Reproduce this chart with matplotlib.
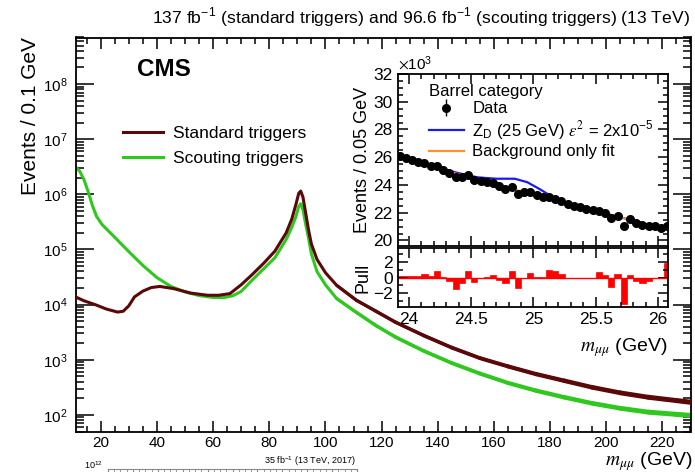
import numpy as np
import matplotlib.pyplot as plt
from matplotlib.collections import LineCollection
from matplotlib.ticker import MultipleLocator, LogLocator, NullFormatter, FormatStrFormatter

plt.rcParams['font.family'] = ['Liberation Sans', 'DejaVu Sans']
plt.rcParams['mathtext.fontset'] = 'stix'

# main spectrum (mass in GeV, log10 of events / 0.1 GeV)
std_mass = [11, 14, 18, 22, 26, 28, 30, 32, 35, 38, 41, 46, 52, 58, 62, 66, 70, 74, 78, 82,
            86, 88, 89.5, 90.5, 91.2, 92, 93, 94, 95, 97, 100, 104, 111, 118, 125, 135, 145,
            155, 165, 175, 185, 195, 205, 215, 225, 230]
std_log = [4.14, 4.07, 4.0, 3.92, 3.865, 3.88, 3.98, 4.14, 4.245, 4.31, 4.33, 4.29, 4.21, 4.17,
           4.17, 4.2, 4.36, 4.55, 4.75, 4.97, 5.3, 5.55, 5.82, 6.02, 6.06, 5.95, 5.65, 5.35,
           5.1, 4.82, 4.58, 4.35, 4.08, 3.88, 3.68, 3.44, 3.22, 3.03, 2.88, 2.74, 2.62, 2.5,
           2.4, 2.32, 2.26, 2.23]
sct_mass = [11, 12.5, 14, 15.5, 17, 18.5, 20.5, 25, 30, 35, 40, 45, 50, 55, 60, 64, 67, 70, 74,
            78, 82, 86, 88, 89.5, 90.5, 91.2, 92, 93, 94, 95, 97, 100, 104, 111, 118, 125,
            135, 145, 155, 165, 175, 185, 195, 205, 215, 225, 230]
sct_log = [6.5, 6.42, 6.27, 6.05, 5.8, 5.6, 5.45, 5.22, 4.96, 4.71, 4.49, 4.33, 4.23, 4.165,
           4.13, 4.13, 4.16, 4.24, 4.45, 4.65, 4.85, 5.18, 5.4, 5.6, 5.78, 5.83, 5.72, 5.45,
           5.2, 4.92, 4.6, 4.36, 4.11, 3.86, 3.62, 3.41, 3.16, 2.94, 2.75, 2.58, 2.44, 2.32,
           2.21, 2.12, 2.05, 2.01, 1.99]
y_decades = [1e2, 1e3, 1e4, 1e5, 1e6, 1e7, 1e8]

# inset: barrel category around 25 GeV (events in units of 10^3)
bin_centers = [23.925 + 0.05 * i for i in range(44)]
data_k = [26.08, 25.95, 25.81, 25.67, 25.58, 25.39, 25.35, 25.11, 24.88, 24.59, 24.59, 24.69,
          24.34, 24.32, 24.22, 24.13, 23.91, 23.73, 23.85, 23.38, 23.48, 23.46, 23.26, 23.14,
          23.16, 23.01, 22.82, 22.64, 22.50, 22.38, 22.26, 22.16, 22.15, 21.98, 21.62, 21.77,
          21.04, 21.52, 21.29, 21.12, 21.04, 21.01, 20.91, 21.05]
data_err = [0.16] * 44
pulls = [0.2, 0.2, 0.2, 0.2, 0.5, 0.2, 0.8, 0.1, -0.5, -1.5, -0.7, 0.8, -0.6, 0.0, 0.1, 0.3,
         -0.3, -0.7, 0.8, -1.4, 0.0, 0.6, 0.1, 0.1, 1.0, 0.8, 0.4, 0.0, -0.1, -0.1, -0.1, 0.0,
         0.7, 0.3, -1.2, 0.5, -3.4, 0.3, -0.4, -0.7, -0.5, 0.0, 0.1, 1.9]
fit_x = [23.9, 24.0, 24.25, 24.5, 24.75, 25.0, 25.25, 25.5, 25.75, 26.0, 26.1]
fit_y = [26.1, 25.85, 25.15, 24.5, 23.9, 23.3, 22.7, 22.1, 21.55, 20.95, 20.72]
sig_x = [23.9, 24.0, 24.25, 24.4, 24.55, 24.7, 24.85, 24.95, 25.05, 25.15, 25.25, 25.35, 25.5,
         25.75, 26.0, 26.1]
sig_y = [26.1, 25.85, 25.2, 24.85, 24.55, 24.45, 24.45, 24.2, 23.7, 23.15, 22.75, 22.45, 22.12,
         21.55, 20.95, 20.72]

W, H = 695, 472
fig = plt.figure(figsize=(W / 100, H / 100), dpi=100)


def box(l, t, r, b):
    return [l / W, 1 - b / H, (r - l) / W, (b - t) / H]


def tail(ax, mass, y, color, z):
    # statistical fluctuations make the high-mass tail look thicker
    m = np.array(mass)
    pts = np.column_stack([m, y])
    segs = np.stack([pts[:-1], pts[1:]], axis=1)
    mid = 0.5 * (m[:-1] + m[1:])
    widths = 2.2 + np.clip(mid - 105, 0, None) * 0.012
    keep = mid > 105
    lc = LineCollection(segs[keep], colors=color, linewidths=widths[keep], capstyle='round',
                        zorder=z)
    ax.add_collection(lc)


red = '#5a0808'
green = '#2ec81e'
std_y = 10 ** np.array(std_log)
sct_y = 10 ** np.array(sct_log)

ax = fig.add_axes(box(75.5, 37.5, 690.5, 431.5))
ax.semilogy(std_mass, std_y, color=red, lw=2.2, label='Standard triggers', zorder=3)
ax.semilogy(sct_mass, sct_y, color=green, lw=2.2, label='Scouting triggers', zorder=2)
tail(ax, std_mass, std_y, red, 3)
tail(ax, sct_mass, sct_y, green, 2)
ax.set_xlim(11, 230)
ax.set_ylim(50, 7e8)
ax.xaxis.set_major_locator(MultipleLocator(20))
ax.xaxis.set_minor_locator(MultipleLocator(5))
ax.set_yticks(y_decades)
ax.yaxis.set_minor_locator(LogLocator(base=10, subs=np.arange(2, 10), numticks=20))
ax.yaxis.set_minor_formatter(NullFormatter())
ax.tick_params(which='both', direction='in', top=True, right=True, labelsize=11, width=1.1)
ax.tick_params(axis='y', which='major', length=13, pad=6)
ax.tick_params(axis='y', which='minor', length=6)
ax.tick_params(axis='x', which='major', length=8)
ax.tick_params(axis='x', which='minor', length=4)
for s in ax.spines.values():
    s.set_linewidth(1.3)
ax.set_ylabel('Events / 0.1 GeV', fontsize=15, loc='top', labelpad=2)
ax.text(1.003, -0.086, r'$m_{\mu\mu}$ (GeV)', transform=ax.transAxes, ha='right', va='baseline',
        fontsize=14)
ax.text(0.1, 0.92, 'CMS', transform=ax.transAxes, fontsize=17.5, fontweight='bold', va='center')
ax.legend(loc='upper left', bbox_to_anchor=(0.052, 0.815), frameon=False, fontsize=12.5,
          handlelength=2.3, handletextpad=0.6, labelspacing=0.55)
fig.text(690 / W, 1 - 18 / H,
         r'137 fb$^{\mathdefault{-1}}$ (standard triggers) and 96.6 fb$^{\mathdefault{-1}}$ (scouting triggers) (13 TeV)',
         ha='right', va='center', fontsize=12.6)

# inset, upper panel
ai = fig.add_axes(box(397.7, 74, 668, 246))
ai.errorbar(bin_centers, data_k, yerr=data_err, fmt='o', color='black', ms=5.5, elinewidth=1,
            capsize=0, label='Data')
ai.plot(sig_x, sig_y, color='#1a1aee', lw=1.6, label=r'Z$_\mathregular{D}$ (25 GeV) $\varepsilon^2$ = 2x10$^{\mathdefault{-5}}$')
ai.plot(fit_x, fit_y, color='#ff9030', lw=1.6, label='Background only fit')
ai.set_xlim(23.91, 26.08)
ai.set_ylim(19.6, 32)
ai.yaxis.set_major_locator(MultipleLocator(2))
ai.yaxis.set_minor_locator(MultipleLocator(0.5))
ai.xaxis.set_major_locator(MultipleLocator(0.5))
ai.xaxis.set_minor_locator(MultipleLocator(0.1))
ai.tick_params(which='both', direction='in', top=True, right=True, labelsize=12.5, width=1.1)
ai.tick_params(which='major', length=7)
ai.tick_params(which='minor', length=3.5)
ai.tick_params(labelbottom=False)
ai.set_ylabel('Events / 0.05 GeV', fontsize=13)
ai.text(0.0, 1.005, r'$\times$10$^{\mathdefault{3}}$', transform=ai.transAxes, fontsize=11, va='bottom')
h, l = ai.get_legend_handles_labels()
ai.legend([h[2], h[0], h[1]], [l[2], l[0], l[1]], loc='upper left', bbox_to_anchor=(0.06, 1.03),
          frameon=False, fontsize=12, handlelength=2.1, handletextpad=0.5, labelspacing=0.15,
          title='Barrel category', title_fontsize=12, alignment='left')
for s in ai.spines.values():
    s.set_linewidth(1.3)

# inset, pull panel
ap = fig.add_axes(box(397.7, 248, 668, 307))
ap.bar(bin_centers, pulls, width=0.05, color='#ff0000', edgecolor='#ff0000', lw=0.5)
ap.axhline(0, color='#ff0000', lw=1)
ap.set_xlim(23.91, 26.08)
ap.set_ylim(-3.8, 3.8)
ap.yaxis.set_minor_locator(MultipleLocator(1))
ap.xaxis.set_major_locator(MultipleLocator(0.5))
ap.xaxis.set_minor_locator(MultipleLocator(0.1))
ap.xaxis.set_major_formatter(FormatStrFormatter('%g'))
ap.tick_params(which='both', direction='in', top=True, right=True, labelsize=12.5, width=1.1)
ap.tick_params(which='major', length=7)
ap.tick_params(which='minor', length=3.5)
ap.set_yticks([-2, 0, 2])
ap.set_yticklabels(['\u22122', '0', '2'])
ap.set_ylabel('Pull', fontsize=13)
ap.yaxis.set_label_coords(-0.097, 0.5)
ai.yaxis.set_label_coords(-0.097, 0.5)
ap.text(1.0, -0.5, r'$m_{\mu\mu}$ (GeV)', transform=ap.transAxes, ha='right', va='top', fontsize=14)
for s in ap.spines.values():
    s.set_linewidth(1.3)

# piece of the next figure peeking in at the bottom
ab = fig.add_axes(box(108, 469, 357, 472))
ab.set_xlim(0, 10)
ab.set_yticks([])
ab.xaxis.set_major_locator(MultipleLocator(1))
ab.xaxis.set_minor_locator(MultipleLocator(0.25))
ab.tick_params(which='both', direction='in', top=True, bottom=False, labelbottom=False,
               length=3, color='#888888')
for s in ab.spines.values():
    s.set_color('#888888')
ab.spines['bottom'].set_visible(False)
fig.text(310 / W, 1 - 461 / H, r'35 fb$^{\mathdefault{-1}}$ (13 TeV, 2017)', ha='center', va='center', fontsize=6.5)
fig.text(93 / W, 1 - 465 / H, r'10$^{\mathdefault{12}}$', ha='center', va='center', fontsize=6.5)

fig.savefig('out.png', dpi=100)
